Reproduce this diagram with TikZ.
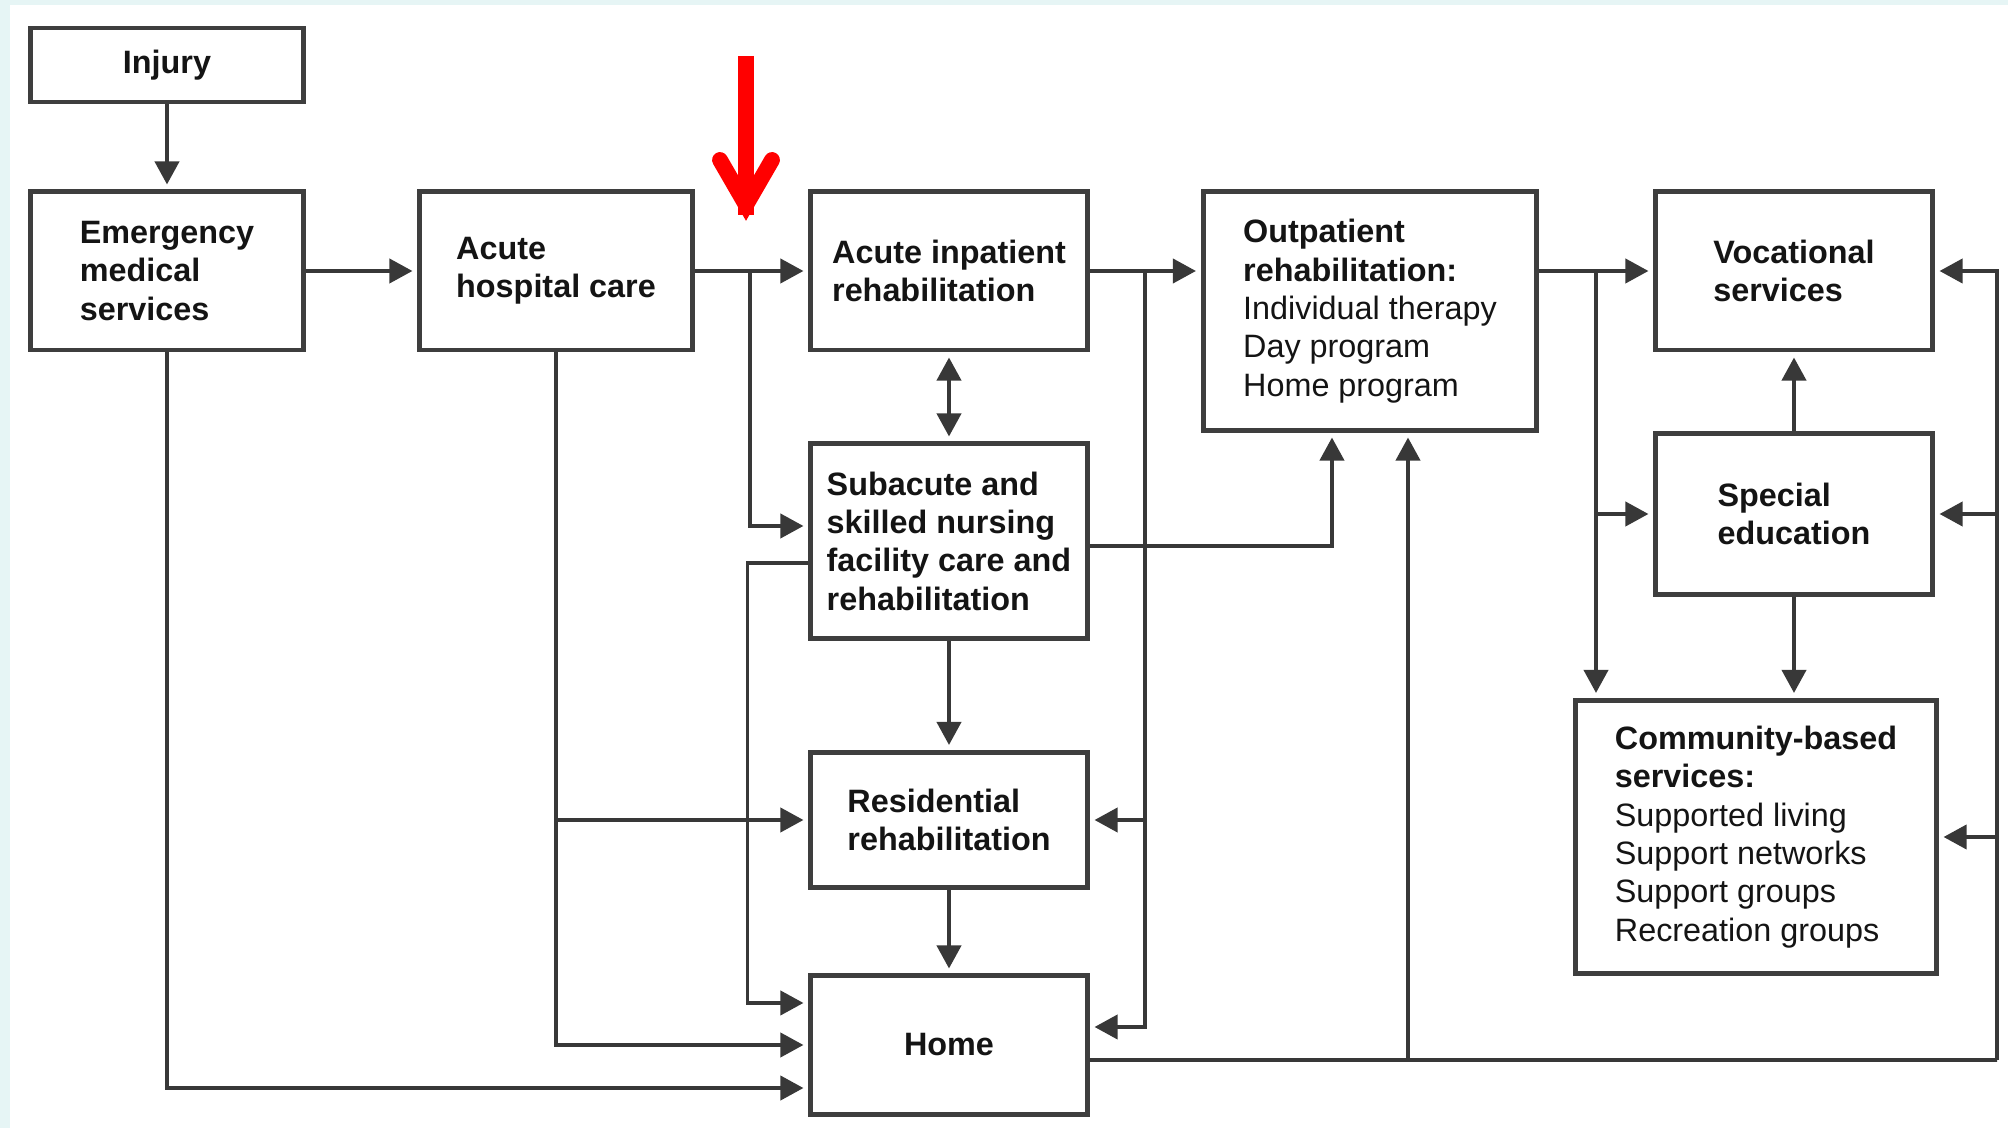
\documentclass[tikz,border=0pt]{standalone}
\usepackage{fontspec}
\setmainfont{Liberation Sans}
\usepackage{tikz}
\usetikzlibrary{arrows.meta,calc}
\definecolor{boxgray}{HTML}{3E3E3E}
\definecolor{linegray}{HTML}{383838}
\definecolor{edgecyan}{HTML}{E6F5F5}

\begin{document}
\begin{tikzpicture}[x=0.01cm,y=-0.01cm,
    box/.style={draw=boxgray, line width=1.4pt, fill=white, align=left, inner sep=0pt,
      text=black!92, font=\fontsize{9.2}{10.9}\selectfont},
    conn/.style={draw=linegray, line width=1.1pt},
    arr/.style={conn, -{Triangle[length=0.23cm,width=0.24cm]}, shorten >=0.05cm},
    arrboth/.style={conn, {Triangle[length=0.23cm,width=0.24cm]}-{Triangle[length=0.23cm,width=0.24cm]}, shorten >=0.05cm, shorten <=0.05cm},
    redarrow/.style={draw=red, line width=4.5pt}]
    % Background
    \fill[edgecyan] (0,0) rectangle (2008,1128);
    \fill[white] (10,5) rectangle (2008,1128);
    \useasboundingbox (0,0) rectangle (2008,1128);
    % Boxes
    \node[box, minimum width=2.72cm, minimum height=0.74cm] (injury) at (167,65) {\textbf{Injury}};
    \node[box, minimum width=2.72cm, minimum height=1.58cm] (ems) at (167,271) {\textbf{Emergency}\\\textbf{medical}\\\textbf{services}};
    \node[box, minimum width=2.72cm, minimum height=1.58cm] (ahc) at (556,271) {\textbf{Acute}\\\textbf{hospital care}};
    \node[box, minimum width=2.76cm, minimum height=1.58cm] (air) at (949,271) {\textbf{Acute inpatient}\\\textbf{rehabilitation}};
    \node[box, minimum width=3.33cm, minimum height=2.38cm] (outp) at (1370,311) {\textbf{Outpatient}\\\textbf{rehabilitation:}\\Individual therapy\\Day program\\Home program};
    \node[box, minimum width=2.76cm, minimum height=1.58cm] (voc) at (1794,271) {\textbf{Vocational}\\\textbf{services}};
    \node[box, minimum width=2.76cm, minimum height=1.60cm] (sped) at (1794,514) {\textbf{Special}\\\textbf{education}};
    \node[box, minimum width=3.60cm, minimum height=2.73cm] (comm) at (1756,837) {\textbf{Community-based}\\\textbf{services:}\\Supported living\\Support networks\\Support groups\\Recreation groups};
    \node[box, minimum width=2.76cm, minimum height=1.94cm] (sub) at (949,541) {\textbf{Subacute and}\\\textbf{skilled nursing}\\\textbf{facility care and}\\\textbf{rehabilitation}};
    \node[box, minimum width=2.76cm, minimum height=1.35cm] (res) at (949,820) {\textbf{Residential}\\\textbf{rehabilitation}};
    \node[box, minimum width=2.76cm, minimum height=1.38cm] (home) at (949,1045) {\textbf{Home}};
    % Junctions
    \coordinate (j1) at (750,271);
    \coordinate (j2) at (1145,271);
    \coordinate (j3) at (1596,271);
    \coordinate (r0) at (1997,1060);
    \coordinate (j4) at (1408,1060);
    % Main row
    \draw[arr] (injury) -- (ems);
    \draw[arr] (ems) -- (ahc);
    \draw[arr] (ahc) -- (air);
    \draw[arr] (air.east) -- (air.east -| outp.west);
    \draw[arr] (outp.east |- voc.west) -- (voc.west);
    % Branches
    \draw[arr] (j1) |- ([yshift=0.15cm]sub.west);
    \draw[arrboth] (air) -- (sub);
    \draw[arr] (j2) |- (res.east);
    \draw[arr] (j2) |- ([yshift=0.18cm]home.east);
    \draw[arr] (j3) |- (sped.west);
    \draw[arr] (j3) -- (j3 |- comm.north);
    \draw[arr] (sped) -- (voc);
    \draw[arr] (sped.south) -- (sped.south |- comm.north);
    \draw[arr] ([yshift=-0.05cm]sub.east) -| ([xshift=-0.38cm]outp.south);
    \draw[arr] (sub) -- (res);
    \draw[arr] (res) -- (home);
    \draw[arr] ([yshift=-0.22cm]sub.west) -- ++(-61,0) |- ([yshift=0.42cm]home.west);
    \draw[arr] (ahc.south) |- (res.west);
    \draw[arr] (ahc.south) |- (home.west);
    \draw[arr] (ems.south) |- ([yshift=-0.43cm]home.west);
    % Return from home
    \draw[conn] ([yshift=-0.15cm]home.east) -- (r0);
    \draw[arr] (r0) |- (voc.east);
    \draw[arr] (r0) |- (sped.east);
    \draw[arr] (r0) |- (comm.east);
    \draw[arr] (j4) -- (j4 |- outp.south);
    % Red marker
    \coordinate (rtop) at (746,56);
    \coordinate (rtip) at (746,205);
    \draw[redarrow] (rtop) -- (746,215);
    \draw[redarrow, line cap=round, line join=miter] (720,160) -- (rtip) -- (772,160);
\end{tikzpicture}
\end{document}
